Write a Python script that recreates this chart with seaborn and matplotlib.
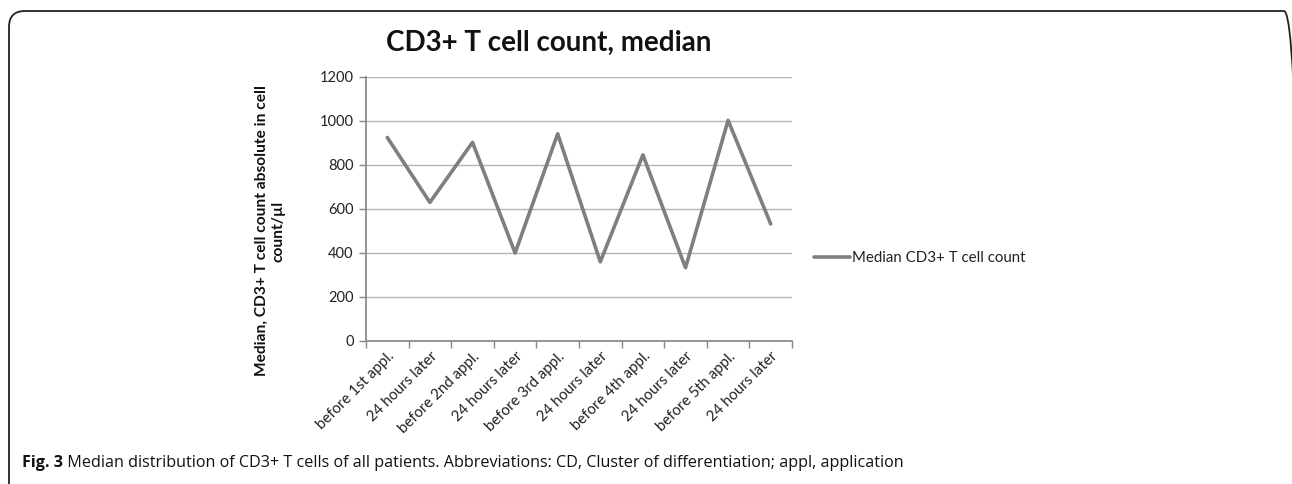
import numpy as np
import pandas as pd
import matplotlib
matplotlib.use("Agg")
import matplotlib.pyplot as plt
import seaborn as sns
from matplotlib.patches import FancyBboxPatch

# ---- data ----
categories = ["before 1st appl.", "24 hours later", "before 2nd appl.", "24 hours later",
              "before 3rd appl.", "24 hours later", "before 4th appl.", "24 hours later",
              "before 5th appl.", "24 hours later"]
median_cd3 = [925, 630, 903, 400, 942, 360, 846, 333, 1003, 532]
series_name = "Median CD3+ T cell count"
y_ticks = [0, 200, 400, 600, 800, 1000, 1200]
title = "CD3+ T cell count, median"
y_label = "Median, CD3+ T cell count absolute in cell\ncount/\u00b5l"
caption_bold = "Fig. 3"
caption_rest = " Median distribution of CD3+ T cells of all patients. Abbreviations: CD, Cluster of differentiation; appl, application"

sns.set_theme(style="white")
plt.rcParams['font.family'] = ['Lato', 'DejaVu Sans']

W, H = 1292, 484
fig = plt.figure(figsize=(W / 100, H / 100), dpi=100)
ax = fig.add_axes([366 / W, 1 - 341 / H, (792 - 366) / W, (341 - 77) / H])

df = pd.DataFrame({"pos": np.arange(len(categories)), "value": median_cd3})
line_color = "#7f7f7f"
sns.lineplot(data=df, x="pos", y="value", ax=ax, color=line_color, linewidth=2.6,
             label=series_name, sort=False)

ax.set_xlim(-0.5, len(categories) - 0.5)
ax.set_ylim(0, 1200)
ax.set_yticks(y_ticks)
ax.set_yticklabels([str(t) for t in y_ticks], fontsize=10.5, color="#222222")
ax.set_xticks(np.arange(len(categories)))
ax.set_xticklabels(categories, rotation=45, ha="right", rotation_mode="anchor",
                   fontsize=10.8, color="#222222")
ax.set_xticks(np.arange(-0.5, len(categories)), minor=True)
ax.tick_params(axis="x", which="major", length=0, pad=6)
ax.tick_params(axis="x", which="minor", length=5, width=1, color="#888888", direction="out", bottom=True)
ax.tick_params(axis="y", which="major", length=5, width=1, color="#888888", direction="out", left=True, pad=4)

ax.grid(axis="y", color="#b4b4b4", linewidth=1.0)
ax.grid(axis="x", visible=False)
ax.set_axisbelow(True)
for s in ["top", "right"]:
    ax.spines[s].set_visible(False)
for s in ["left", "bottom"]:
    ax.spines[s].set_color("#8c8c8c")
    ax.spines[s].set_linewidth(1.3)

ax.set_xlabel("")
ax.set_ylabel(y_label, fontsize=11.2, fontweight="bold", color="#111111", linespacing=1.3)
ax.yaxis.set_label_coords((286 - 366) / (792 - 366), (341 - 231) / (341 - 77))

leg = ax.legend(loc="center left", bbox_to_anchor=(814 / W, 1 - 258 / H),
                bbox_transform=fig.transFigure, frameon=False, fontsize=10.8,
                handlelength=2.4, handletextpad=0.15, borderpad=0, borderaxespad=0)
for t in leg.get_texts():
    t.set_color("#222222")

fig.text(549 / W, 1 - 43 / H, title, ha="center", va="center", fontsize=20,
         fontweight="bold", color="#111111")

# rounded border (in inches, isotropic); right edge past the image edge
box = FancyBboxPatch((0.09, -1.0), 13.0 - 0.09, 4.84 - 0.11 + 1.0,
                     boxstyle="round,pad=0,rounding_size=0.16", transform=fig.dpi_scale_trans,
                     facecolor="none", edgecolor="#222222", linewidth=1.3)
fig.patches.append(box)

# caption
cap_fam = ['Open Sans', 'DejaVu Sans']
t1 = fig.text(22 / W, 1 - 467 / H, caption_bold, ha="left", va="baseline", fontsize=11.6,
              fontweight="bold", family=cap_fam, color="#111111")
fig.canvas.draw()
bb = t1.get_window_extent()
fig.text(bb.x1 / W, 1 - 467 / H, caption_rest, ha="left", va="baseline", fontsize=11.6,
         family=cap_fam, color="#111111")

fig.savefig("out.png", dpi=100)
